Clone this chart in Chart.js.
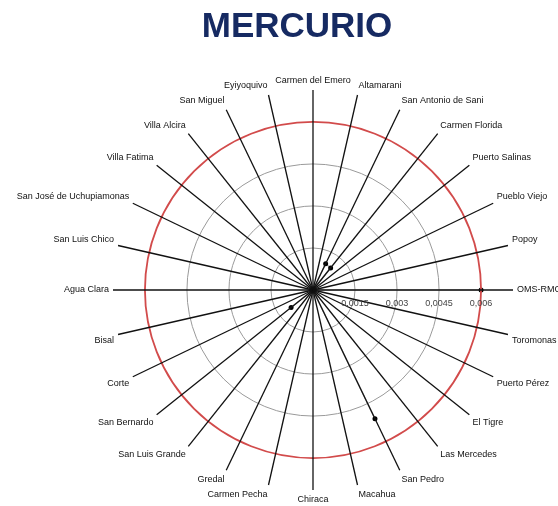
<!DOCTYPE html>
<html lang="es">
<head>
<meta charset="UTF-8">
<title>Mercurio</title>
<script src="https://cdn.jsdelivr.net/npm/chart.js@4.4.1/dist/chart.umd.min.js"></script>
<style>
  body { margin: 0; background: #fff; }
</style>
</head>
<body>
<canvas id="grafico" width="558" height="506"></canvas>
<script>
// comunidades, en sentido horario desde la derecha
const comunidades = ['OMS-RMC', 'Toromonas', 'Puerto Pérez', 'El Tigre', 'Las Mercedes', 'San Pedro',
  'Macahua', 'Chiraca', 'Carmen Pecha', 'Gredal', 'San Luis Grande', 'San Bernardo', 'Corte', 'Bisal',
  'Agua Clara', 'San Luis Chico', 'San José de Uchupiamonas', 'Villa Fatima', 'Villa Alcira',
  'San Miguel', 'Eyiyoquivo', 'Carmen del Emero', 'Altamarani', 'San Antonio de Sani',
  'Carmen Florida', 'Puerto Salinas', 'Pueblo Viejo', 'Popoy'];

// mercurio (mg/l)
const mercurio = [0.006, 0, 0, 0, 0, 0.0051, 0, 0, 0, 0, 0, 0.001, 0, 0,
  0, 0, 0, 0, 0, 0, 0, 0, 0, 0.00104, 0.00101, 0, 0, 0];

const marcas = [0, 0.0015, 0.003, 0.0045, 0.006];
const limite = 0.006;

// etiquetas de valor bajo el eje OMS-RMC
const etiquetasEje = {
  id: 'etiquetasEje',
  afterDraw(chart) {
    const s = chart.scales.r;
    const ctx = chart.ctx;
    ctx.save();
    ctx.font = '9px "Liberation Sans", Arial, sans-serif';
    ctx.fillStyle = '#444';
    ctx.textAlign = 'center';
    ctx.textBaseline = 'middle';
    s.ticks.forEach(t => {
      if (t.value === 0) return;
      const x = s.xCenter + s.getDistanceFromCenterForValue(t.value);
      ctx.fillText(String(t.value).replace('.', ','), x, s.yCenter + 14);
    });
    ctx.restore();
  }
};

new Chart(document.getElementById('grafico'), {
  type: 'radar',
  data: {
    labels: comunidades,
    datasets: [{
      label: 'Mercurio',
      data: mercurio,
      borderColor: '#b5b5b5',
      borderWidth: 1.5,
      fill: false,
      pointRadius: 2.5,
      pointBackgroundColor: '#000',
      pointBorderColor: '#000',
      pointBorderWidth: 0
    }]
  },
  options: {
    responsive: false,
    animation: false,
    layout: { padding: { left: 36 } },
    plugins: {
      legend: { display: false },
      tooltip: { enabled: false },
      title: {
        display: true,
        text: 'MERCURIO',
        color: '#162a62',
        font: { family: '"Liberation Sans", Arial, sans-serif', size: 35, weight: 'bold' },
        padding: { top: 6, bottom: 0 }
      }
    },
    scales: {
      r: {
        min: 0,
        max: 0.00714,
        startAngle: 90,
        afterBuildTicks: s => { s.ticks = marcas.map(v => ({ value: v })); },
        afterFit: s => {
          // centro y radio fijos como en el original
          s.xCenter = 313;
          s.yCenter = 290;
          s.drawingArea = 200;
          const prev = [s.left, s.right, s.top, s.bottom];
          s.left = -5000; s.right = 5000; s.top = -5000; s.bottom = 5000;
          s.fit();
          [s.left, s.right, s.top, s.bottom] = prev;
        },
        ticks: { display: false },
        grid: {
          z: 1,
          circular: true,
          color: c => c.tick && c.tick.value === limite ? '#d24b4b' : '#9a9a9a',
          lineWidth: c => c.tick && c.tick.value === limite ? 1.8 : 1
        },
        angleLines: { color: '#111', lineWidth: 1.3 },
        pointLabels: {
          padding: 4,
          color: '#111',
          font: { family: '"Liberation Sans", Arial, sans-serif', size: 9 }
        }
      }
    }
  },
  plugins: [etiquetasEje]
});
</script>
</body>
</html>
